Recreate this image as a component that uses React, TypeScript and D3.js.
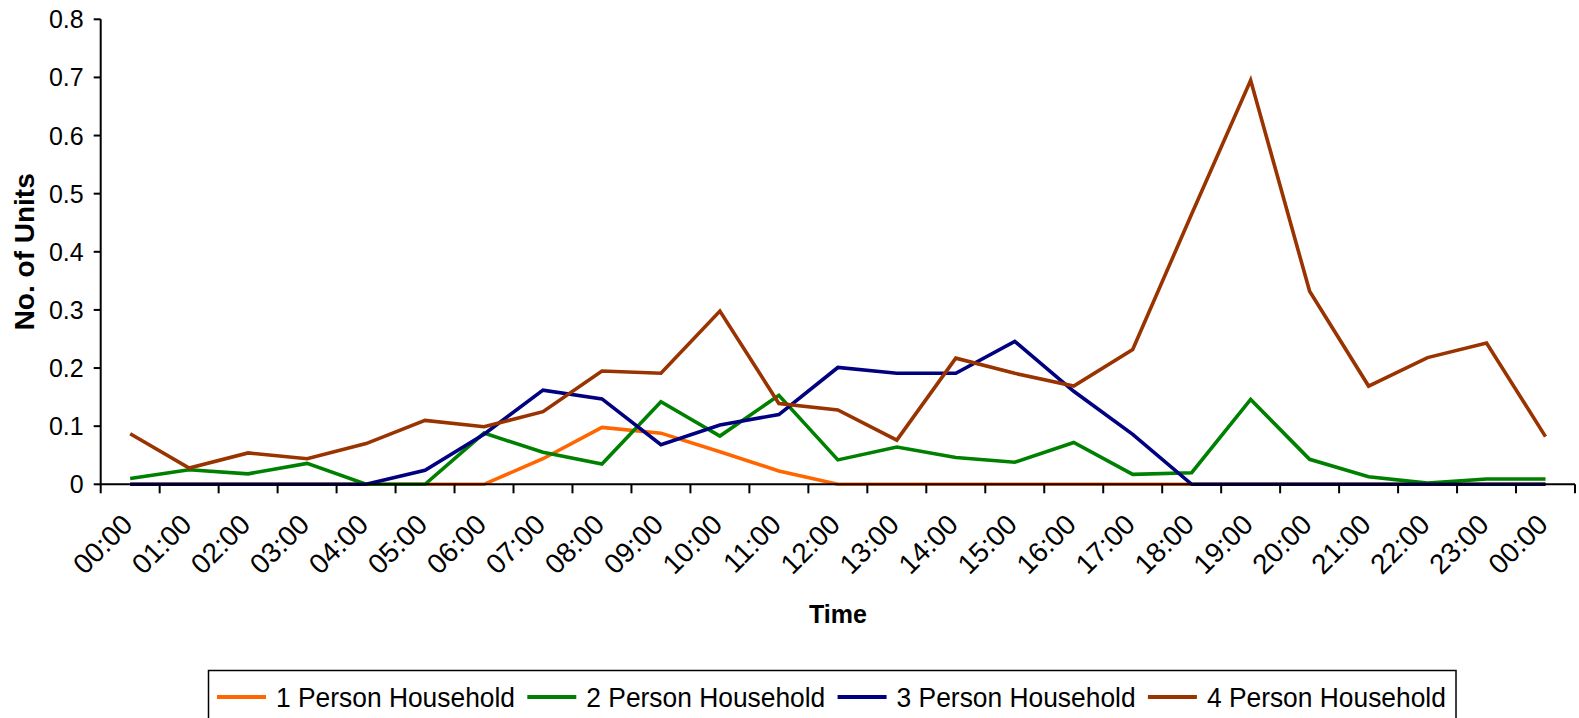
import React from "react";
import * as d3 from "d3";

const timeLabels = ["00:00","01:00","02:00","03:00","04:00","05:00","06:00","07:00","08:00","09:00","10:00","11:00","12:00","13:00","14:00","15:00","16:00","17:00","18:00","19:00","20:00","21:00","22:00","23:00","00:00"];
const yTicks = [0, 0.1, 0.2, 0.3, 0.4, 0.5, 0.6, 0.7, 0.8];

const onePerson = [0,0,0,0,0,0,0,0.044,0.098,0.088,0.056,0.023,0,0,0,0,0,0,0,0,0,0,0,0,0];
const twoPerson = [0.010,0.025,0.018,0.036,0,0,0.088,0.055,0.035,0.142,0.083,0.153,0.042,0.064,0.046,0.038,0.072,0.017,0.020,0.146,0.043,0.013,0.002,0.009,0.009];
const threePerson = [0,0,0,0,0,0.024,0.086,0.162,0.147,0.068,0.102,0.120,0.201,0.191,0.191,0.246,0.160,0.086,0,0,0,0,0,0,0];
const fourPerson = [0.087,0.028,0.054,0.044,0.070,0.110,0.099,0.125,0.195,0.191,0.298,0.139,0.128,0.076,0.217,0.191,0.169,0.232,0.465,0.695,0.332,0.169,0.218,0.243,0.082];

const seriesNames = ["1 Person Household","2 Person Household","3 Person Household","4 Person Household"];
const seriesColors = ["#FF6600","#008000","#000080","#993300"];

export default function App() {
  const W = 1579, H = 718;
  const left = 100.7, right = 1575, top = 19.3, bottom = 484.3;
  const font = "'Liberation Sans', Arial, sans-serif";
  const x = d3.scaleBand<number>().domain(d3.range(timeLabels.length)).range([left, right]);
  const y = d3.scaleLinear().domain([0, 0.8]).range([bottom, top]);
  const cx = (i: number) => (x(i) as number) + x.bandwidth() / 2;
  const line = d3.line<number>().x((_, i) => cx(i)).y((d) => y(d));
  const series = [onePerson, twoPerson, threePerson, fourPerson];
  const bounds = d3.range(timeLabels.length + 1).map((i) => left + i * x.bandwidth());

  const legX = 217, legStep = 310.3, legY = 697;

  return (
    <svg width={W} height={H} style={{ position: "absolute", left: 0, top: 0, background: "#fff" }} fontFamily={font}>
      {series.map((s, k) => (
        <path key={k} d={line(s) || ""} fill="none" stroke={seriesColors[k]} strokeWidth={3.6} strokeLinejoin="miter" />
      ))}
      <line x1={left} x2={left} y1={top} y2={bottom} stroke="#000" strokeWidth={2} />
      {yTicks.map((t) => (
        <g key={t}>
          <line x1={left - 7} x2={left} y1={y(t)} y2={y(t)} stroke="#000" strokeWidth={2} />
          <text x={left - 17} y={y(t)} dy="0.36em" textAnchor="end" fontSize={25}>{String(t)}</text>
        </g>
      ))}
      <line x1={left} x2={right} y1={bottom} y2={bottom} stroke="#000" strokeWidth={2} />
      {bounds.map((b, i) => (
        <line key={i} x1={b} x2={b} y1={bottom} y2={bottom + 9} stroke="#000" strokeWidth={2} />
      ))}
      {timeLabels.map((l, i) => (
        <text key={i} transform={`translate(${cx(i) + 4},${bottom + 42}) rotate(-45)`} textAnchor="end" fontSize={28}>{l}</text>
      ))}
      <text x={(left + right) / 2} y={623} textAnchor="middle" fontSize={25} fontWeight="bold">Time</text>
      <text transform={`translate(34,${(top + bottom) / 2}) rotate(-90)`} textAnchor="middle" fontSize={28} fontWeight="bold">No. of Units</text>
      <rect x={208.5} y={670.5} width={1247.5} height={60} fill="#fff" stroke="#000" strokeWidth={1.5} />
      {seriesNames.map((n, k) => (
        <g key={k}>
          <line x1={legX + k * legStep} x2={legX + k * legStep + 49} y1={legY} y2={legY} stroke={seriesColors[k]} strokeWidth={4} />
          <text x={legX + k * legStep + 59} y={legY + 10} fontSize={28} textLength={239} lengthAdjust="spacingAndGlyphs">{n}</text>
        </g>
      ))}
    </svg>
  );
}
